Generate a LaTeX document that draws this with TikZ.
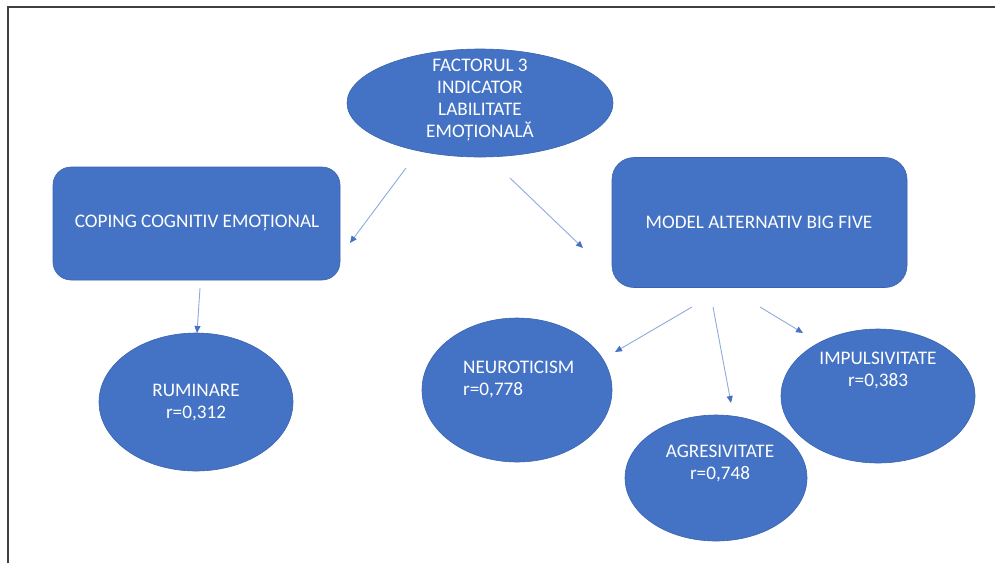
\documentclass[tikz,border=0pt]{standalone}
\usepackage{fontspec}
\setmainfont{Carlito}
\usetikzlibrary{shapes.geometric,arrows.meta}
\definecolor{fillblue}{HTML}{4472C4}
\definecolor{edgeblue}{HTML}{3A64B0}
\definecolor{linkblue}{HTML}{8FAADC}
\definecolor{framegray}{HTML}{3F3F3F}
\tikzset{
  oval/.style={ellipse, fill=fillblue, draw=edgeblue, line width=0.6pt, inner sep=0pt},
  rbox/.style={rectangle, rounded corners=18pt, fill=fillblue, draw=edgeblue, line width=0.6pt, inner sep=0pt},
  lbl/.style={text=white, font=\fontsize{19.2}{22}\selectfont, align=center, inner sep=0pt},
  link/.style={draw=linkblue, line width=0.9pt, -{Triangle[length=7pt,width=6pt,color=fillblue]}}
}
\begin{document}
\begin{tikzpicture}[x=1pt,y=-1pt]
\useasboundingbox (0,0) rectangle (995,563);
\fill[white] (0,0) rectangle (995,563);
\draw[framegray, line width=1.6pt] (8,563) -- (8,7) -- (995,7);

% shapes
\node[oval, minimum width=266pt, minimum height=108pt] (top) at (480,103) {};
\node[rbox, minimum width=287pt, minimum height=113pt] (coping) at (196.5,223.5) {};
\node[rbox, minimum width=295pt, minimum height=130pt, rounded corners=22pt] (model) at (759.5,222.5) {};
\node[oval, minimum width=194pt, minimum height=138pt] (rum) at (196,402) {};
\node[oval, minimum width=190pt, minimum height=144pt] (neu) at (517,390) {};
\node[oval, minimum width=182pt, minimum height=126pt] (agr) at (716,478) {};
\node[oval, minimum width=194pt, minimum height=134pt] (imp) at (878,396) {};

% texts
\node[lbl] (toptxt) at (480,100) {FACTORUL 3\\INDICATOR\\LABILITATE\\EMOȚIONALĂ};
\node[lbl] (copingtxt) at (197,223) {COPING COGNITIV EMOȚIONAL};
\node[lbl] (modeltxt) at (759,222) {MODEL ALTERNATIV BIG FIVE};
\node[lbl] (rumtxt) at (196,403) {RUMINARE\\r=0,312};
\node[lbl, align=left, anchor=west] (neutxt) at (463,379) {NEUROTICISM\\r=0,778};
\node[lbl] (agrtxt) at (720,463) {AGRESIVITATE\\r=0,748};
\node[lbl] (imptxt) at (878,370) {IMPULSIVITATE\\r=0,383};

% connector end points
\coordinate (a1s) at (406,168);
\coordinate (a1e) at (350,243);
\coordinate (a2s) at (510,178);
\coordinate (a2e) at (583,248);
\coordinate (a3s) at (200,288);
\coordinate (a3e) at (197,333);
\coordinate (a4s) at (692,307);
\coordinate (a4e) at (615,352);
\coordinate (a5s) at (713,307);
\coordinate (a5e) at (731,403);
\coordinate (a6s) at (760,307);
\coordinate (a6e) at (803,333);

\draw[link] (a1s) -- (a1e);
\draw[link] (a2s) -- (a2e);
\draw[link] (a3s) -- (a3e);
\draw[link] (a4s) -- (a4e);
\draw[link] (a5s) -- (a5e);
\draw[link] (a6s) -- (a6e);
\end{tikzpicture}
\end{document}
